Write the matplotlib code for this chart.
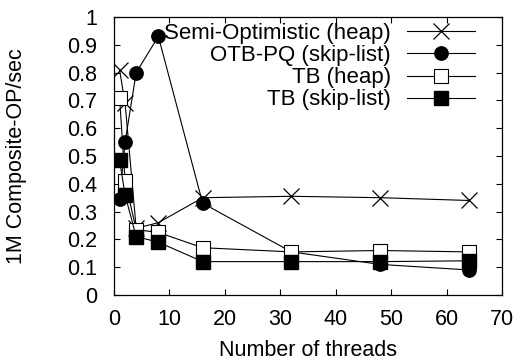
import matplotlib
matplotlib.use("Agg")
import matplotlib.pyplot as plt

threads = [1, 2, 4, 8, 16, 32, 48, 64]
semi_opt_heap = [0.81, 0.69, 0.24, 0.26, 0.35, 0.355, 0.35, 0.34]
otb_pq_skip = [0.345, 0.55, 0.80, 0.93, 0.33, 0.155, 0.11, 0.09]
tb_heap = [0.71, 0.41, 0.235, 0.225, 0.17, 0.155, 0.16, 0.155]
tb_skip = [0.485, 0.36, 0.21, 0.19, 0.12, 0.12, 0.12, 0.123]

labels = ["Semi-Optimistic (heap)", "OTB-PQ (skip-list)", "TB (heap)", "TB (skip-list)"]
xticks = [0, 10, 20, 30, 40, 50, 60, 70]
yticks = [0, 0.1, 0.2, 0.3, 0.4, 0.5, 0.6, 0.7, 0.8, 0.9, 1]
ytick_labels = ["0", "0.1", "0.2", "0.3", "0.4", "0.5", "0.6", "0.7", "0.8", "0.9", "1"]

FS = 15.5
plt.rcParams['font.family'] = ['Liberation Sans', 'DejaVu Sans']
plt.rcParams['font.size'] = FS

fig = plt.figure(figsize=(5.17, 3.6), dpi=100)
ax = fig.add_axes([0.2205, 0.1806, 0.7505, 0.7722])

lw = 0.8
ms = 9.6
ax.plot(threads, semi_opt_heap, color='black', lw=lw, marker='x', markersize=11,
        markeredgewidth=0.9, label=labels[0])
ax.plot(threads, otb_pq_skip, color='black', lw=lw, marker='o', markersize=ms,
        markerfacecolor='black', label=labels[1])
ax.plot(threads, tb_heap, color='black', lw=lw, marker='s', markersize=ms,
        markerfacecolor='white', markeredgewidth=0.8, label=labels[2])
ax.plot(threads, tb_skip, color='black', lw=lw, marker='s', markersize=ms,
        markerfacecolor='black', label=labels[3])

ax.set_xlim(0, 70)
ax.set_ylim(0, 1)
ax.set_xticks(xticks)
ax.set_yticks(yticks)
ax.set_yticklabels(ytick_labels)
ax.tick_params(direction='in', length=4, width=0.8, top=True, right=True,
               labelsize=FS)
ax.tick_params(axis='x', pad=10)
ax.tick_params(axis='y', pad=12)
for s in ax.spines.values():
    s.set_linewidth(0.9)

ax.set_xlabel("Number of threads", fontsize=FS)
ax.set_ylabel("1M Composite-OP/sec", fontsize=FS)
ax.xaxis.set_label_coords(0.5, -0.198)
ax.xaxis.label.set_va('center')
ax.yaxis.set_label_coords(-0.25, 0.5)
ax.yaxis.label.set_va('center')
ax.yaxis.label.set_ha('center')

ax.legend(loc='upper right', bbox_to_anchor=(0.93, 0.978), frameon=False,
          markerfirst=False, handlelength=3.05, handletextpad=0.72,
          labelspacing=0.05, borderpad=0, borderaxespad=0, fontsize=16)

fig.savefig("out.png", dpi=100)
